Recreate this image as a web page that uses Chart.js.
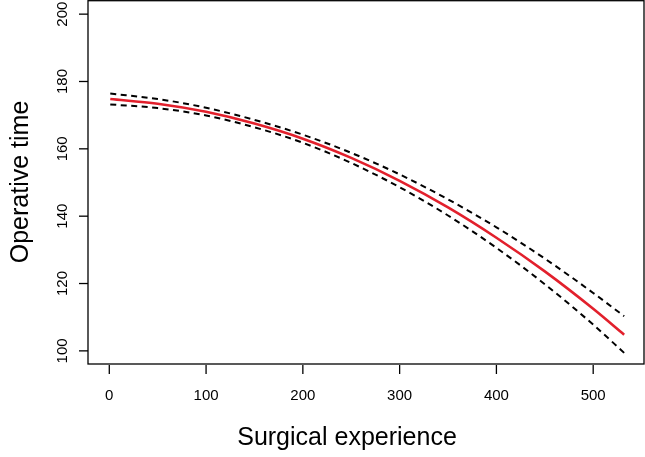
<!DOCTYPE html>
<html>
<head>
<meta charset="utf-8">
<script src="https://cdn.jsdelivr.net/npm/chart.js@4/dist/chart.umd.min.js"></script>
<style>
  html, body { margin: 0; padding: 0; background: #fff; }
  #wrap { width: 645px; height: 457px; }
</style>
</head>
<body>
<div id="wrap"><canvas id="curveChart" width="645" height="457"></canvas></div>
<script>
/* DATA */
const experience = [1, 50, 100, 150, 200, 250, 300, 350, 400, 450, 500, 532];
const fitted     = [174.8, 173.4, 171.0, 167.5, 163.0, 157.3, 150.5, 142.6, 133.6, 123.6, 112.5, 104.8];
const upperCI    = [176.4, 174.8, 172.2, 168.6, 164.2, 158.8, 152.4, 145.0, 136.7, 127.4, 117.2, 110.3];
const lowerCI    = [173.2, 172.1, 169.9, 166.4, 161.8, 155.8, 148.6, 140.2, 130.6, 119.8, 107.8, 99.4];

const xTicks = [0, 100, 200, 300, 400, 500];
const yTicks = [100, 120, 140, 160, 180, 200];

const xTitle = "Surgical experience";
const yTitle = "Operative time";

const toPoints = ys => experience.map((x, i) => ({ x: x, y: ys[i] }));


/* R STYLE BOX, TICKS AND LABELS */
const rAxes = {
    id: "rAxes",
    afterDraw(chart) {
        const { ctx, chartArea: a, scales: { x, y } } = chart;
        const font = '"Liberation Sans", Arial, Helvetica, sans-serif';

        ctx.save();
        ctx.strokeStyle = "#000";
        ctx.fillStyle = "#000";
        ctx.lineWidth = 1.3;

        // plot box
        ctx.strokeRect(a.left, a.top + 0.7, a.right - a.left, a.bottom - a.top - 0.7);

        ctx.font = "15px " + font;
        ctx.textAlign = "center";
        ctx.textBaseline = "alphabetic";

        // x ticks
        xTicks.forEach(v => {
            const px = x.getPixelForValue(v);
            ctx.beginPath();
            ctx.moveTo(px, a.bottom + 1);
            ctx.lineTo(px, a.bottom + 10);
            ctx.stroke();
            ctx.fillText(String(v), px, 400);
        });

        // y ticks (labels rotated like R)
        yTicks.forEach(v => {
            const py = y.getPixelForValue(v);
            ctx.beginPath();
            ctx.moveTo(a.left - 9, py);
            ctx.lineTo(a.left, py);
            ctx.stroke();
            ctx.save();
            ctx.translate(66.5, py);
            ctx.rotate(-Math.PI / 2);
            ctx.fillText(String(v), 0, 0);
            ctx.restore();
        });

        // axis titles
        ctx.font = "25px " + font;
        ctx.textBaseline = "middle";
        ctx.fillText(xTitle, 347, 438);

        ctx.save();
        ctx.translate(21, (a.top + a.bottom) / 2);
        ctx.rotate(-Math.PI / 2);
        ctx.fillText(yTitle, 0, 0);
        ctx.restore();

        ctx.restore();
    }
};


/* CHART */
function initChart() {
    const ctx = document.getElementById("curveChart").getContext("2d");

    const dashed = {
        borderColor: "#000",
        borderWidth: 2,
        borderDash: [6, 4.5],
        pointRadius: 0,
        cubicInterpolationMode: "monotone",
        fill: false
    };

    new Chart(ctx, {
        type: "line",
        data: {
            datasets: [
                Object.assign({ label: "upper", data: toPoints(upperCI) }, dashed),
                Object.assign({ label: "lower", data: toPoints(lowerCI) }, dashed),
                {
                    label: "fit",
                    data: toPoints(fitted),
                    borderColor: "#e2202c",
                    borderWidth: 2.6,
                    pointRadius: 0,
                    cubicInterpolationMode: "monotone",
                    fill: false
                }
            ]
        },
        options: {
            responsive: false,
            animation: false,
            layout: {
                padding: { left: 88, right: 1, top: 0, bottom: 93 }
            },
            plugins: {
                legend: { display: false },
                tooltip: { enabled: false }
            },
            scales: {
                x: { type: "linear", display: false, min: -22, max: 552.5 },
                y: { type: "linear", display: false, min: 96.1, max: 204.2 }
            }
        },
        plugins: [rAxes]
    });
}

document.addEventListener("DOMContentLoaded", initChart);
</script>
</body>
</html>
